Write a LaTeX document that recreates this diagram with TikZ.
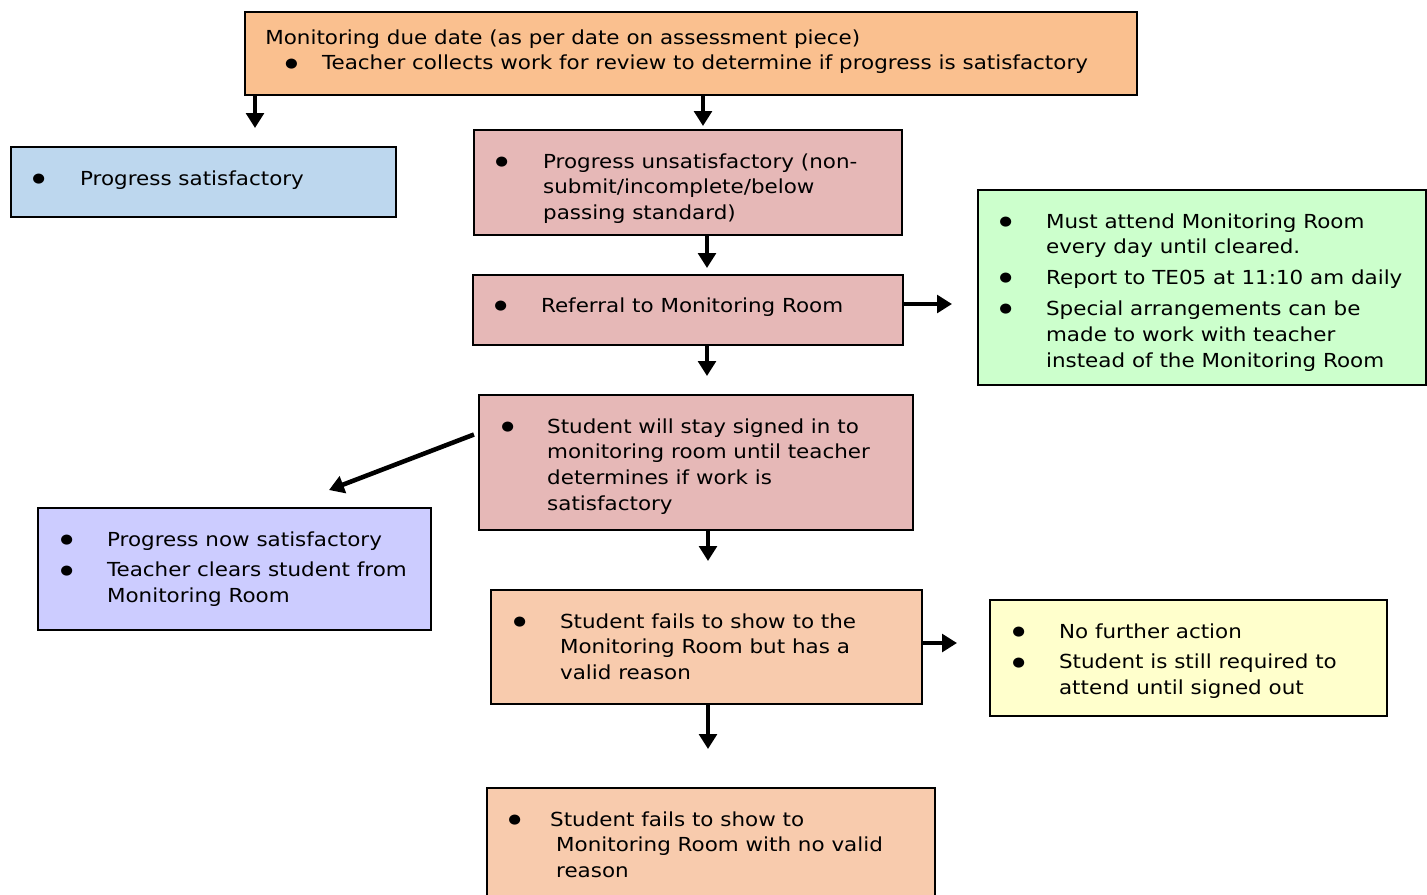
\documentclass[tikz,border=0pt]{standalone}
\usepackage{fontspec}
\setmainfont{DejaVu Sans}[FakeStretch=1.11]
\usetikzlibrary{arrows.meta,fit}

\definecolor{duecol}{HTML}{FAC08F}
\definecolor{satcol}{HTML}{BDD7EE}
\definecolor{unsatcol}{HTML}{E6B8B7}
\definecolor{mustcol}{HTML}{CCFFCC}
\definecolor{clearcol}{HTML}{CCCCFF}
\definecolor{failcol}{HTML}{F8CBAD}
\definecolor{nofurthercol}{HTML}{FFFFCC}

\newcommand{\bigbul}{\raisebox{1.6pt}{\fontsize{7.5}{7.5}\selectfont ●}}

\tikzset{
  box/.style={draw,line width=1.2pt,inner sep=0pt},
  txt/.style={anchor=base west,inner sep=0pt,font=\fontsize{11}{14.74}\selectfont},
  flow/.style={line width=2.6pt,-{Triangle[width=10pt,length=8.5pt]}},
}

\begin{document}
\begin{tikzpicture}[x=0.02cm,y=-0.02cm]
\useasboundingbox (0,0) rectangle (1427,894);

% boxes
\node[box,fill=duecol,fit={(245,12) (1137,95)}] (due) {};
\node[box,fill=satcol,fit={(11,147) (396,217)}] (sat) {};
\node[box,fill=unsatcol,fit={(474,130) (902,235)}] (unsat) {};
\node[box,fill=unsatcol,fit={(473,275) (903,345)}] (ref) {};
\node[box,fill=mustcol,fit={(978,190) (1426,385)}] (must) {};
\node[box,fill=unsatcol,fit={(479,395) (913,530)}] (stay) {};
\node[box,fill=clearcol,fit={(38,508) (431,630)}] (clear) {};
\node[box,fill=failcol,fit={(491,590) (922,704)}] (valid) {};
\node[box,fill=nofurthercol,fit={(990,600) (1387,716)}] (nofurther) {};
\node[box,fill=failcol,fit={(487,788) (935,920)}] (novalid) {};

% texts
\node[txt] (due-t) at (265,44) {\begin{tabular}[t]{@{}l@{}}
  Monitoring due date (as per date on assessment piece)\\
  \hspace{11.2pt}\makebox[21.1pt][l]{\bigbul}Teacher collects work for review to determine if progress is satisfactory
\end{tabular}};
\node[txt] (sat-t) at (32,185) {\begin{tabular}[t]{@{}p{27.2pt}@{}l@{}}
  \bigbul & Progress satisfactory
\end{tabular}};
\node[txt] (unsat-t) at (495,168) {\begin{tabular}[t]{@{}p{27.2pt}@{}l@{}}
  \bigbul & Progress unsatisfactory (non-\\
  & submit/incomplete/below\\
  & passing standard)
\end{tabular}};
\node[txt] (ref-t) at (494,312) {\begin{tabular}[t]{@{}p{26.6pt}@{}l@{}}
  \bigbul & Referral to Monitoring Room
\end{tabular}};
\node[txt] (must-t) at (999,228) {\begin{tabular}[t]{@{}p{26.6pt}@{}l@{}}
  \bigbul & Must attend Monitoring Room\\
  & every day until cleared.\\[2.8pt]
  \bigbul & Report to TE05 at 11:10 am daily\\[2.8pt]
  \bigbul & Special arrangements can be\\
  & made to work with teacher\\
  & instead of the Monitoring Room
\end{tabular}};
\node[txt] (stay-t) at (501,433) {\begin{tabular}[t]{@{}p{26.1pt}@{}l@{}}
  \bigbul & Student will stay signed in to\\
  & monitoring room until teacher\\
  & determines if work is\\
  & satisfactory
\end{tabular}};
\node[txt] (clear-t) at (60,546) {\begin{tabular}[t]{@{}p{26.6pt}@{}l@{}}
  \bigbul & Progress now satisfactory\\[2.8pt]
  \bigbul & Teacher clears student from\\
  & Monitoring Room
\end{tabular}};
\node[txt] (valid-t) at (513,628) {\begin{tabular}[t]{@{}p{26.6pt}@{}l@{}}
  \bigbul & Student fails to show to the\\
  & Monitoring Room but has a\\
  & valid reason
\end{tabular}};
\node[txt] (nofurther-t) at (1012,638) {\begin{tabular}[t]{@{}p{26.6pt}@{}l@{}}
  \bigbul & No further action\\[2.8pt]
  \bigbul & Student is still required to\\
  & attend until signed out
\end{tabular}};
\node[txt] (novalid-t) at (508,826) {\begin{tabular}[t]{@{}p{23.8pt}@{}l@{}}
  \bigbul & Student fails to show to\\
  & \hspace{3.4pt}Monitoring Room with no valid\\
  & \hspace{3.4pt}reason
\end{tabular}};

% arrows
\coordinate (sat-in) at (255,128);
\coordinate (unsat-in) at (703,126);
\coordinate (ref-in) at (707,268);
\coordinate (must-in) at (952,304);
\coordinate (stay-in) at (707,376);
\coordinate (clear-in) at (329,490);
\coordinate (valid-in) at (708,561);
\coordinate (nofurther-in) at (957,643);
\coordinate (novalid-in) at (708,749);

\draw[flow] (due.south -| sat-in) -- (sat-in);
\draw[flow] (due.south -| unsat-in) -- (unsat-in);
\draw[flow] (unsat.south -| ref-in) -- (ref-in);
\draw[flow] (ref.east |- must-in) -- (must-in);
\draw[flow] (ref.south -| stay-in) -- (stay-in);
\draw[flow] ([shift={(-4,-28)}]stay.west) -- (clear-in);
\draw[flow] (stay.south -| valid-in) -- (valid-in);
\draw[flow] (valid.east |- nofurther-in) -- (nofurther-in);
\draw[flow] (valid.south -| novalid-in) -- (novalid-in);
\end{tikzpicture}
\end{document}
